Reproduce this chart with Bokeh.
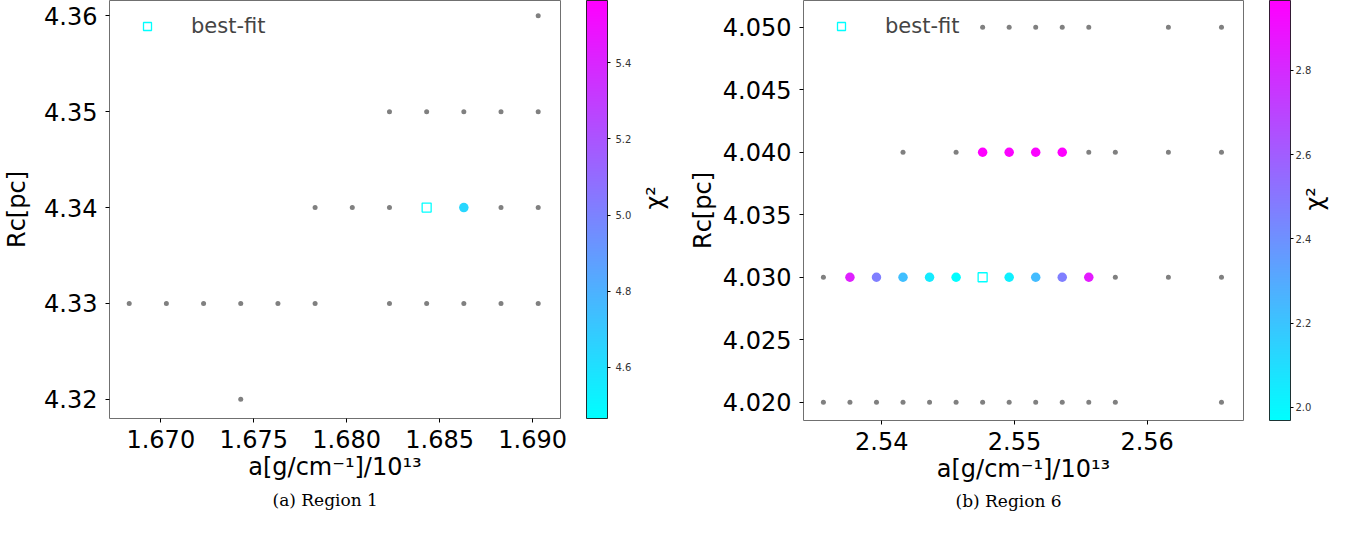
import numpy as np
from bokeh.plotting import figure
from bokeh.models import (Range1d, LinearColorMapper, ColorBar, FixedTicker,
                          NumeralTickFormatter, ColumnDataSource, Title, LinearAxis)
from bokeh.layouts import row
from bokeh.embed import file_html
from bokeh.resources import INLINE

# ---------------- Region 1 data ----------------
r1_grid_a = [1.6903,
             1.6823, 1.6843, 1.6863, 1.6883, 1.6903,
             1.6783, 1.6803, 1.6823, 1.6883, 1.6903,
             1.6683, 1.6703, 1.6723, 1.6743, 1.6763, 1.6783, 1.6823, 1.6843, 1.6863, 1.6883, 1.6903,
             1.6743]
r1_grid_rc = [4.36,
              4.35, 4.35, 4.35, 4.35, 4.35,
              4.34, 4.34, 4.34, 4.34, 4.34,
              4.33, 4.33, 4.33, 4.33, 4.33, 4.33, 4.33, 4.33, 4.33, 4.33, 4.33,
              4.32]
r1_col_a = [1.6863]
r1_col_rc = [4.34]
r1_col_chi2 = [4.64]
r1_best_a = [1.6843]
r1_best_rc = [4.34]
r1_chi2_lim = [4.466, 5.563]
r1_xticks = [1.670, 1.675, 1.680, 1.685, 1.690]
r1_yticks = [4.32, 4.33, 4.34, 4.35, 4.36]
r1_cticks = [4.6, 4.8, 5.0, 5.2, 5.4]

# ---------------- Region 6 data ----------------
r6_grid_a = [2.5476, 2.5496, 2.5516, 2.5536, 2.5556, 2.5616, 2.5656,
             2.5416, 2.5456, 2.5556, 2.5576, 2.5616, 2.5656,
             2.5356, 2.5576, 2.5616, 2.5656,
             2.5356, 2.5376, 2.5396, 2.5416, 2.5436, 2.5456, 2.5476, 2.5496,
             2.5516, 2.5536, 2.5556, 2.5576, 2.5656]
r6_grid_rc = [4.05] * 7 + [4.04] * 6 + [4.03] * 4 + [4.02] * 13
r6_col_a = [2.5476, 2.5496, 2.5516, 2.5536,
            2.5376, 2.5396, 2.5416, 2.5436, 2.5456, 2.5496, 2.5516, 2.5536, 2.5556]
r6_col_rc = [4.04] * 4 + [4.03] * 9
r6_col_chi2 = [2.966, 2.95, 2.95, 2.96,
               2.84, 2.47, 2.22, 2.05, 1.98, 2.03, 2.23, 2.47, 2.86]
r6_best_a = [2.5476]
r6_best_rc = [4.03]
r6_chi2_lim = [1.969, 2.966]
r6_xticks = [2.54, 2.55, 2.56]
r6_yticks = [4.020, 4.025, 4.030, 4.035, 4.040, 4.045, 4.050]
r6_cticks = [2.0, 2.2, 2.4, 2.6, 2.8]

COOL = ["#%02x%02x%02x" % (int(round(255 * t)), int(round(255 * (1 - t))), 255)
        for t in np.linspace(0, 1, 256)]

FONT = "DejaVu Sans"


def panel(gx, gy, cx, cy, cchi, bx, by, clim, xr, yr, xt, yt, ct, xfmt, yfmt,
          fw, fh, caption, cap_offset, cap_standoff, ylab_standoff, chi_standoff,
          cb_label_standoff):
    p = figure(frame_width=fw, frame_height=fh, x_range=Range1d(*xr), y_range=Range1d(*yr),
               output_backend="svg", toolbar_location=None,
               min_border_left=0, min_border_right=0, min_border_top=0,
               min_border_bottom=0)
    p.grid.visible = False
    p.outline_line_color = "#707070"
    p.outline_line_width = 1
    p.background_fill_color = "white"
    p.border_fill_color = "white"
    for ax in (p.xaxis[0], p.yaxis[0]):
        ax.axis_line_color = None
        ax.major_tick_out = 4
        ax.major_tick_in = 0
        ax.minor_tick_line_color = None
        ax.major_tick_line_color = "black"
        ax.major_label_text_font = FONT
        ax.major_label_text_font_size = "24px"
        ax.major_label_text_color = "black"
        ax.axis_label_text_font = FONT
        ax.axis_label_text_font_size = "24px"
        ax.axis_label_text_font_style = "normal"
        ax.axis_label_text_color = "black"
    p.xaxis.major_label_standoff = 7
    p.yaxis.major_label_standoff = 8
    p.xaxis.ticker = FixedTicker(ticks=xt)
    p.yaxis.ticker = FixedTicker(ticks=yt)
    p.xaxis.formatter = NumeralTickFormatter(format=xfmt)
    p.yaxis.formatter = NumeralTickFormatter(format=yfmt)
    p.xaxis.axis_label = "a[g/cm\u207b\u00b9]/10\u00b9\u00b3"
    p.yaxis.axis_label = "Rc[pc]"
    p.xaxis.axis_label_standoff = 2
    p.yaxis.axis_label_standoff = ylab_standoff

    mapper = LinearColorMapper(palette=COOL, low=clim[0], high=clim[1])
    p.scatter(gx, gy, size=5, color="#808080", line_color=None)
    src = ColumnDataSource(dict(x=cx, y=cy, chi2=cchi))
    p.scatter(x="x", y="y", size=9.5, line_color=None,
              fill_color={"field": "chi2", "transform": mapper}, source=src)
    p.scatter(bx, by, marker="square", size=9, fill_color=None, line_color="cyan",
              line_width=1.3, legend_label="best-fit")

    lg = p.legend[0]
    lg.location = "top_left"
    lg.border_line_color = None
    lg.background_fill_alpha = 0
    lg.margin = 14
    lg.padding = 9
    lg.glyph_width = 48
    lg.glyph_height = 20
    lg.label_height = 20
    lg.label_standoff = 20
    lg.label_text_font = FONT
    lg.label_text_font_size = "21px"

    cb = ColorBar(color_mapper=mapper, width=21, height=fh, padding=0, margin=0,
                  location=(26, 0),
                  ticker=FixedTicker(ticks=ct),
                  formatter=NumeralTickFormatter(format="0.0"),
                  major_tick_in=0, major_tick_out=3, major_tick_line_color="black",
                  minor_tick_line_color=None, label_standoff=cb_label_standoff,
                  major_label_text_font=FONT, major_label_text_font_size="10px",
                  major_label_text_color="#333333",
                  bar_line_color="black", bar_line_width=0.8,
                  background_fill_color=None)
    p.add_layout(cb, "right")

    chi_axis = LinearAxis(ticker=FixedTicker(ticks=[]), axis_label="\u03c7\u00b2",
                          axis_line_color=None, major_tick_line_color=None,
                          minor_tick_line_color=None,
                          axis_label_text_font=FONT, axis_label_text_font_size="24px",
                          axis_label_text_font_style="normal",
                          axis_label_text_color="black", axis_label_standoff=chi_standoff)
    try:
        chi_axis.axis_label_orientation = np.pi / 2
    except Exception:
        pass
    p.add_layout(chi_axis, "right")

    cap = Title(text=caption, align="left", offset=cap_offset,
                text_font="DejaVu Serif", text_font_size="17px",
                text_font_style="normal", text_color="black", standoff=cap_standoff)
    p.add_layout(cap, "below")
    return p


p1 = panel(r1_grid_a, r1_grid_rc, r1_col_a, r1_col_rc, r1_col_chi2, r1_best_a, r1_best_rc,
           r1_chi2_lim, (1.66724, 1.6915), (4.318, 4.3616), r1_xticks, r1_yticks, r1_cticks,
           "0.000", "0.00", 451, 418, "(a) Region 1", 163, 9, 10, 20, 5)
p2 = panel(r6_grid_a, r6_grid_rc, r6_col_a, r6_col_rc, r6_col_chi2, r6_best_a, r6_best_rc,
           r6_chi2_lim, (2.5341, 2.56726), (4.01854, 4.05214), r6_xticks, r6_yticks, r6_cticks,
           "0.00", "0.000", 440, 420, "(b) Region 6", 152, 7, 3, 0, 2)

layout = row(p1, p2)
open("out.html", "w").write(file_html(layout, INLINE))
